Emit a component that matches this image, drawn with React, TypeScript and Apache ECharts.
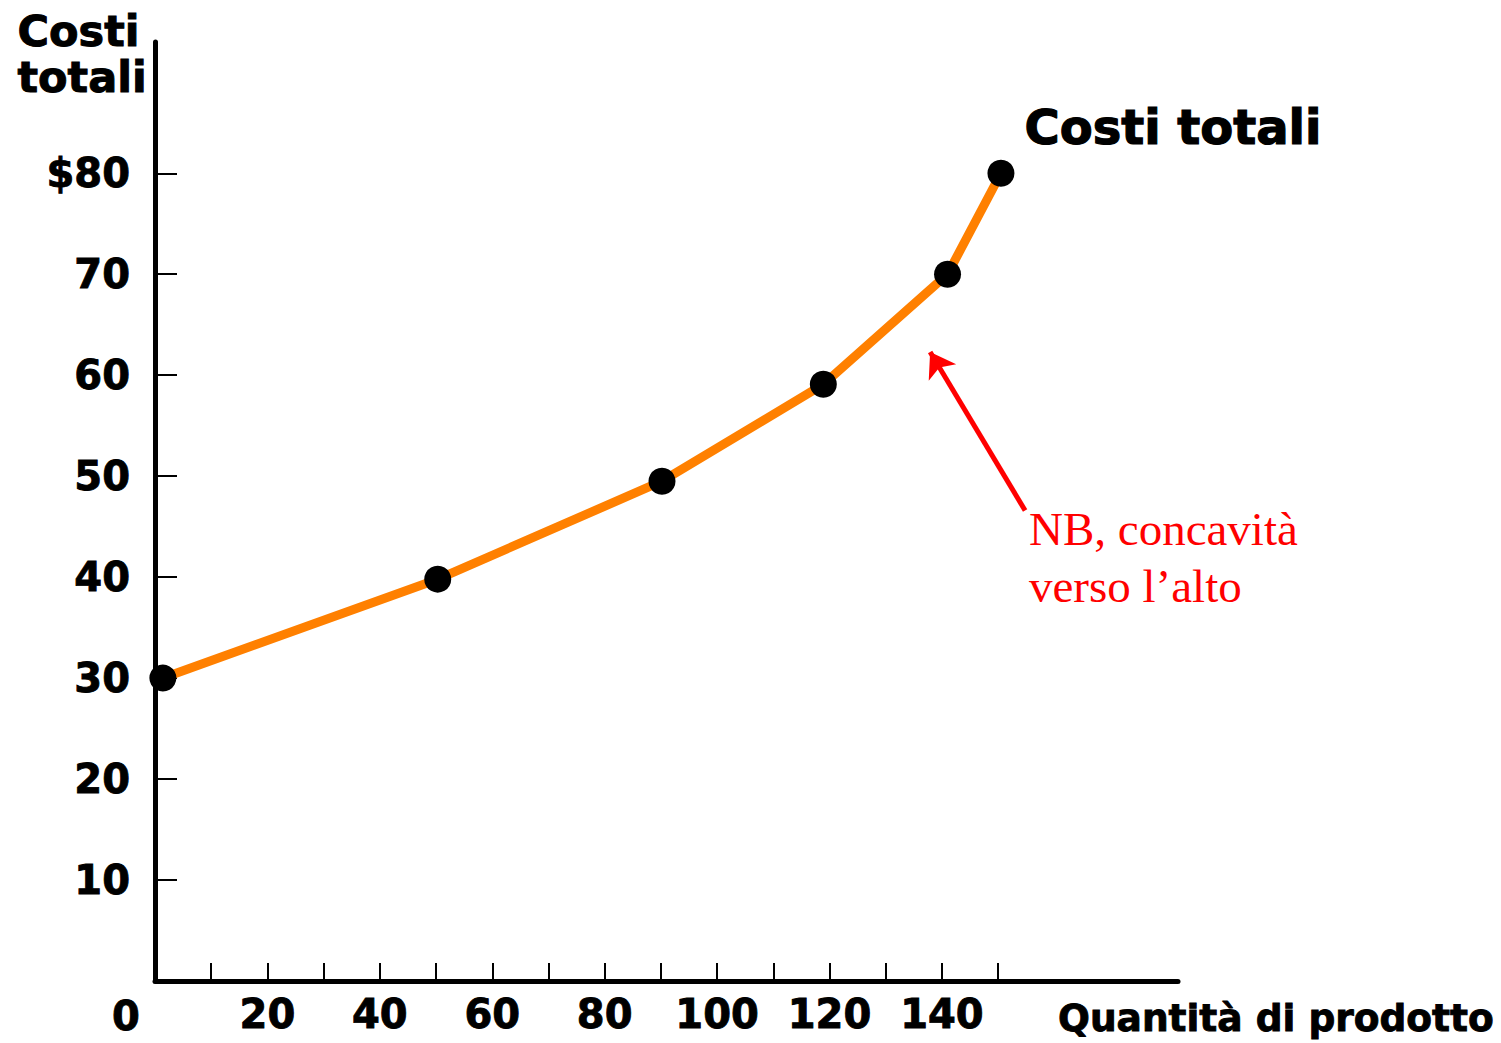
import React, { useEffect, useRef } from "react";
import * as echarts from "echarts";

// ---- data ----
const quantities = [1.4, 50.3, 90.2, 118.9, 141, 150.5];
const totalCosts = [30, 39.8, 49.5, 59.1, 70, 80];

const xTickValues = [10, 20, 30, 40, 50, 60, 70, 80, 90, 100, 110, 120, 130, 140, 150];
const xLabelValues = [20, 40, 60, 80, 100, 120, 140];
const yTickValues = [10, 20, 30, 40, 50, 60, 70, 80];

const seriesName = "Costi totali";
const yAxisTitle = "Costi\ntotali";
const xAxisTitle = "Quantità di prodotto";
const noteText = "NB, concavità\nverso l\u2019alto";

// annotation arrow in data space (tail -> head)
const arrowTail = [154.8, 46.6];
const arrowHead = [137.9, 62.3];

const BOLD = "'DejaVu Sans', Verdana, sans-serif";
const heavy = { textBorderColor: "#000", textBorderWidth: 0.9 };

export default function App() {
  const ref = useRef<HTMLDivElement>(null);

  useEffect(() => {
    document.body.style.margin = "0";
    if (!ref.current) return;
    const chart = echarts.init(ref.current, undefined, { renderer: "svg" });

    const points = quantities.map((q, i) => {
      const item: any = { value: [q, totalCosts[i]] };
      if (i === quantities.length - 1) {
        item.label = {
          show: true,
          formatter: seriesName,
          position: "right",
          distance: 10,
          offset: [0, -46],
          fontFamily: BOLD,
          fontWeight: "bold",
          fontSize: 48,
          color: "#000",
          ...heavy,
          textBorderWidth: 1.2,
        };
      }
      return item;
    });

    chart.setOption({
      animation: false,
      backgroundColor: "#fff",
      grid: {
        left: 155,
        right: 323,
        top: 42,
        bottom: 62,
        containLabel: false,
        outerBoundsMode: "none",
      },
      xAxis: {
        type: "value",
        min: 0,
        max: 182,
        axisLine: { show: true, lineStyle: { color: "#000", width: 5, cap: "round" } },
        axisTick: {
          show: true,
          inside: true,
          length: 18,
          customValues: xTickValues,
          lineStyle: { color: "#000", width: 2 },
        },
        axisLabel: {
          show: true,
          customValues: xLabelValues,
          margin: 13,
          fontFamily: BOLD,
          fontWeight: "bold",
          fontSize: 40,
          color: "#000",
          ...heavy,
        },
        splitLine: { show: false },
      },
      yAxis: {
        type: "value",
        min: 0,
        max: 93,
        axisLine: { show: true, lineStyle: { color: "#000", width: 5, cap: "round" } },
        axisTick: {
          show: true,
          inside: true,
          length: 22,
          customValues: yTickValues,
          lineStyle: { color: "#000", width: 2 },
        },
        axisLabel: {
          show: true,
          customValues: yTickValues,
          margin: 25,
          fontFamily: BOLD,
          fontWeight: "bold",
          fontSize: 40,
          color: "#000",
          ...heavy,
          formatter: (v: number) => (v === 80 ? "$" + v : String(v)),
        },
        splitLine: { show: false },
      },
      series: [
        {
          name: seriesName,
          type: "line",
          data: points,
          symbol: "circle",
          symbolSize: 27,
          itemStyle: { color: "#000" },
          lineStyle: { color: "#FF8000", width: 9 },
          z: 5,
          silent: true,
          markLine: {
            silent: true,
            animation: false,
            symbol: ["none", "arrow"],
            symbolSize: 24,
            label: { show: false },
            lineStyle: { color: "#FF0000", width: 5, type: "solid" },
            itemStyle: { color: "#FF0000" },
            emphasis: { disabled: true },
            data: [[{ coord: arrowTail }, { coord: arrowHead }]],
          },
        },
      ],
      graphic: [
        {
          type: "text",
          left: 17,
          top: 8,
          style: {
            text: yAxisTitle,
            fontFamily: BOLD,
            fontWeight: "bold",
            fontSize: 43,
            lineHeight: 46,
            fill: "#000",
            stroke: "#000",
            lineWidth: 1,
          },
        },
        {
          type: "text",
          x: 126,
          y: 1016,
          style: {
            text: "0",
            align: "center",
            verticalAlign: "middle",
            fontFamily: BOLD,
            fontWeight: "bold",
            fontSize: 40,
            fill: "#000",
            stroke: "#000",
            lineWidth: 0.9,
          },
        },
        {
          type: "text",
          x: 1058,
          y: 1018,
          style: {
            text: xAxisTitle,
            align: "left",
            verticalAlign: "middle",
            fontFamily: BOLD,
            fontWeight: "bold",
            fontSize: 37.5,
            fill: "#000",
            stroke: "#000",
            lineWidth: 0.9,
          },
        },
        {
          type: "text",
          x: 1029,
          y: 500,
          style: {
            text: noteText,
            align: "left",
            verticalAlign: "top",
            fontFamily: "'Liberation Serif', 'Times New Roman', serif",
            fontSize: 47,
            lineHeight: 57,
            fill: "#FF0000",
          },
        },
      ],
    });

    return () => chart.dispose();
  }, []);

  return <div ref={ref} style={{ width: 1501, height: 1043 }} />;
}
